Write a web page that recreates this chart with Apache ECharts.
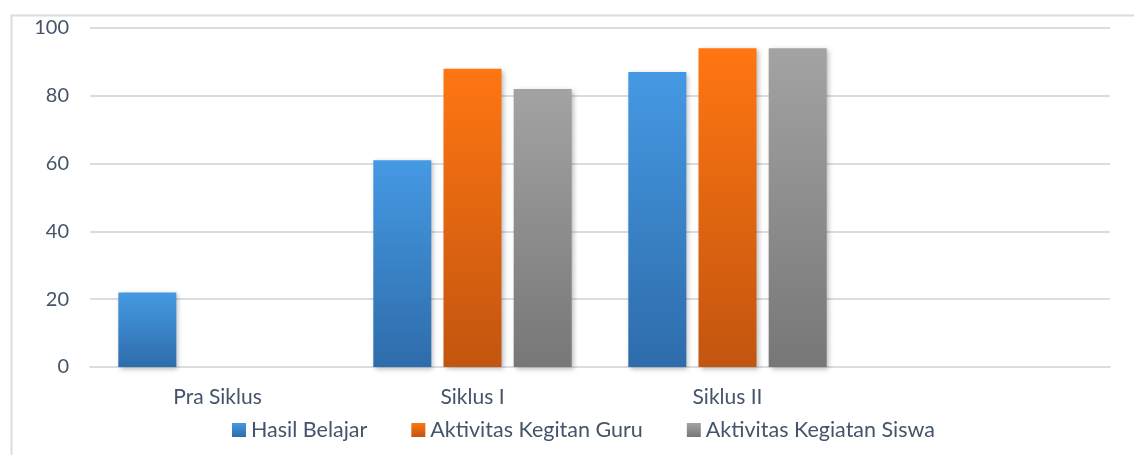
<!DOCTYPE html>
<html>
<head>
<meta charset="utf-8">
<script src="https://cdn.jsdelivr.net/npm/echarts@6/dist/echarts.min.js"></script>
<style>
  html, body { margin: 0; padding: 0; background: #fff; }
  #chart { width: 1134px; height: 455px; }
</style>
</head>
<body>
<div id="chart"></div>
<script>
const categories = ['Pra Siklus', 'Siklus I', 'Siklus II', ''];
const hasilBelajar = [22, 61, 87, null];
const aktivitasGuru = [null, 88, 94, null];
const aktivitasSiswa = [null, 82, 94, null];
const yTicks = [0, 20, 40, 60, 80, 100];

const textColor = '#44546a';
const fontName = 'Lato';

function grad(top, bottom) {
    return new echarts.graphic.LinearGradient(0, 0, 0, 1, [
        { offset: 0, color: top },
        { offset: 1, color: bottom }
    ]);
}

const barShadow = {
    shadowColor: 'rgba(0,0,0,0.28)',
    shadowBlur: 5,
    shadowOffsetX: 2,
    shadowOffsetY: 2
};

const chart = echarts.init(document.getElementById('chart'));

const seriesDefs = [
    { name: 'Hasil Belajar', data: hasilBelajar, top: '#4599e3', bottom: '#2e6cab' },
    { name: 'Aktivitas Kegitan Guru', data: aktivitasGuru, top: '#ff7612', bottom: '#c2550f' },
    { name: 'Aktivitas Kegiatan Siswa', data: aktivitasSiswa, top: '#a3a3a3', bottom: '#777777' }
];

const option = {
    animation: false,
    textStyle: { fontFamily: fontName },
    graphic: [{
        type: 'rect',
        left: 9,
        top: 13,
        shape: { width: 1200, height: 500 },
        style: { fill: 'none', stroke: '#d9dce2', lineWidth: 2 },
        silent: true
    }],
    grid: { left: 90, right: 24, top: 28, bottom: 88 },
    legend: {
        data: seriesDefs.map(s => s.name),
        top: 414,
        left: 227,
        icon: 'rect',
        itemWidth: 14,
        itemHeight: 14,
        itemGap: 44,
        textStyle: { color: textColor, fontSize: 21.5, fontFamily: fontName }
    },
    xAxis: {
        type: 'category',
        data: categories,
        axisLine: { show: true, lineStyle: { color: '#d9dde3', width: 2 } },
        axisTick: { show: false },
        axisLabel: { color: textColor, fontSize: 21, margin: 20, fontFamily: fontName }
    },
    yAxis: {
        type: 'value',
        min: yTicks[0],
        max: yTicks[yTicks.length - 1],
        interval: 20,
        axisLine: { show: false },
        axisTick: { show: false },
        axisLabel: { color: textColor, fontSize: 20, margin: 21, fontFamily: fontName },
        splitLine: { lineStyle: { color: '#d9dde3', width: 2 } }
    },
    series: seriesDefs.map(s => ({
        name: s.name,
        type: 'bar',
        data: s.data,
        barWidth: 58,
        barGap: '21%',
        itemStyle: Object.assign({ color: grad(s.top, s.bottom) }, barShadow)
    }))
};

chart.setOption(option);
window.addEventListener('resize', () => chart.resize());
</script>
</body>
</html>
